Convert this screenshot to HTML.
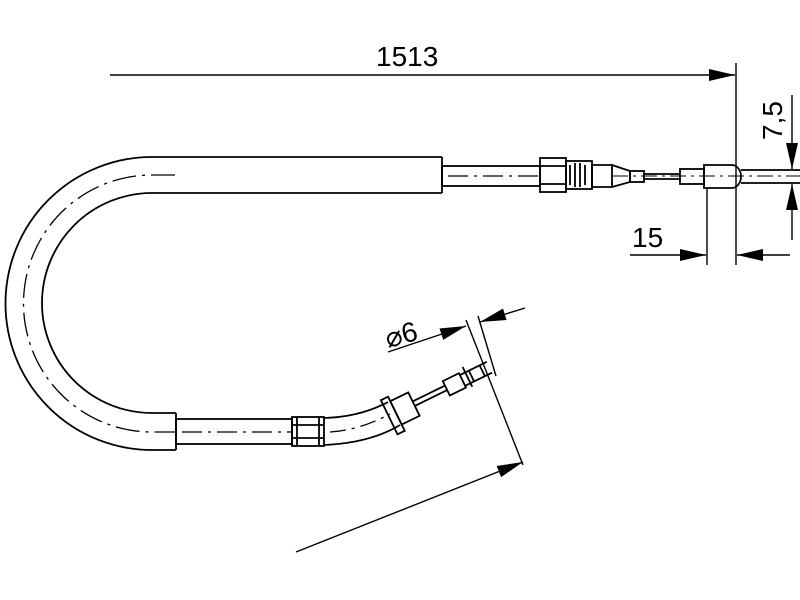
<!DOCTYPE html>
<html><head><style>body{margin:0;background:#fff}svg{display:block}</style></head><body>
<svg width="800" height="600" viewBox="0 0 800 600" xmlns="http://www.w3.org/2000/svg" font-family="Liberation Sans, sans-serif">
<defs><marker id="b" markerWidth="26" markerHeight="12" refX="26" refY="6" orient="auto" markerUnits="userSpaceOnUse"><path d="M0,0 L26,6 L0,12z" fill="#000"/></marker></defs>
<g stroke="#000" fill="none" stroke-width="1.8">
<!-- main U tube -->
<path d="M442,157 L152,157 A146.5,146.5 0 0 0 5.5,303.5 A146.5,146.5 0 0 0 152,450 L176,450"/>
<path d="M442,193 L152,193 A110,110 0 0 0 42,303 A110,110 0 0 0 152,413 L176,413"/>
<line x1="442" y1="157" x2="442" y2="193"/>
<line x1="176" y1="413" x2="176" y2="450"/>
<path d="M175,175 L152,175 A128.5,128.5 0 0 0 23.5,303.5 A128.5,128.5 0 0 0 152,432 L176,432" stroke-width="1.3" stroke-dasharray="24,6,3,6"/>
<!-- top end -->
<rect x="442" y="166" width="98" height="20"/>
<line x1="448" y1="176" x2="540" y2="176" stroke-width="1.3" stroke-dasharray="20,6,3,6"/>
<rect x="540" y="158" width="26" height="34"/>
<line x1="540" y1="166" x2="566" y2="166"/><line x1="540" y1="184" x2="566" y2="184"/>
<rect x="566" y="161" width="26" height="28"/>
<path d="M570,165 v20 M575,163 v24 M580,163 v24 M585,165 v20"/>
<path d="M592,165 h20 v22 h-20 z"/>
<path d="M612,165 L630,171 L630,182 L612,187"/>
<rect x="630" y="171" width="14" height="11"/>
<path d="M644,174 h36 M644,179 h36"/>
<rect x="680" y="169" width="24" height="15"/>
<path d="M704,165 h28 a9,11.5 0 0 1 0,23 h-28 z"/>
<path d="M741,170 H800 M741,183 H800"/>
<line x1="612" y1="176" x2="800" y2="176" stroke-width="1" stroke-dasharray="16,5,3,5"/>
<!-- bottom end -->
<rect x="176" y="419" width="116" height="25"/>
<line x1="182" y1="432" x2="292" y2="432" stroke-width="1.3" stroke-dasharray="20,6,3,6"/>
<rect x="292" y="417" width="32" height="29"/>
<path d="M297,417 v29 M319,417 v29 M292,425 h32 M292,438 h32"/>
<path d="M324,418 Q360,417 388,402 M324,445 Q370,443 400,425"/>
<path d="M330,432 Q360,430 390,414" stroke-width="1.3" stroke-dasharray="16,6,3,6"/>
<g transform="rotate(-26 400 412)">
<rect x="388" y="393" width="8" height="38"/>
<rect x="396" y="398" width="20" height="26"/>
<path d="M416,408 h36 M416,413 h36"/>
<rect x="452" y="403" width="18" height="16"/>
<path d="M470,405 h30 M470,417 h30 M480,405 v12 M492,405 v12 M476,399 v22"/>
</g>
<!-- dimensions -->
<line x1="110" y1="75" x2="735" y2="75" marker-end="url(#b)" stroke-width="1.4"/>
<line x1="736" y1="63" x2="736" y2="265" stroke-width="1.4"/>
<line x1="707" y1="188" x2="707" y2="265" stroke-width="1.4"/>
<line x1="630" y1="255" x2="706" y2="255" marker-end="url(#b)" stroke-width="1.4"/>
<line x1="790" y1="255" x2="737" y2="255" marker-end="url(#b)" stroke-width="1.4"/>
<line x1="792" y1="95" x2="792" y2="169" marker-end="url(#b)" stroke-width="1.4"/>
<line x1="792" y1="240" x2="792" y2="184" marker-end="url(#b)" stroke-width="1.4"/>
<line x1="466" y1="320" x2="523" y2="465" stroke-width="1.4"/>
<line x1="478" y1="316" x2="496" y2="376" stroke-width="1.4"/>
<line x1="388" y1="352" x2="466" y2="326" marker-end="url(#b)" stroke-width="1.4"/>
<line x1="525" y1="308" x2="480" y2="322" marker-end="url(#b)" stroke-width="1.4"/>
<line x1="296" y1="552" x2="523" y2="462" marker-end="url(#b)" stroke-width="1.4"/>
</g>
<g font-size="28" fill="#000">
<text x="376" y="66">1513</text>
<text x="632" y="247">15</text>
<text transform="translate(782,140) rotate(-90)">7,5</text>
<text transform="translate(388,348) rotate(-15)">⌀6</text>
</g>
</svg>
</body></html>
